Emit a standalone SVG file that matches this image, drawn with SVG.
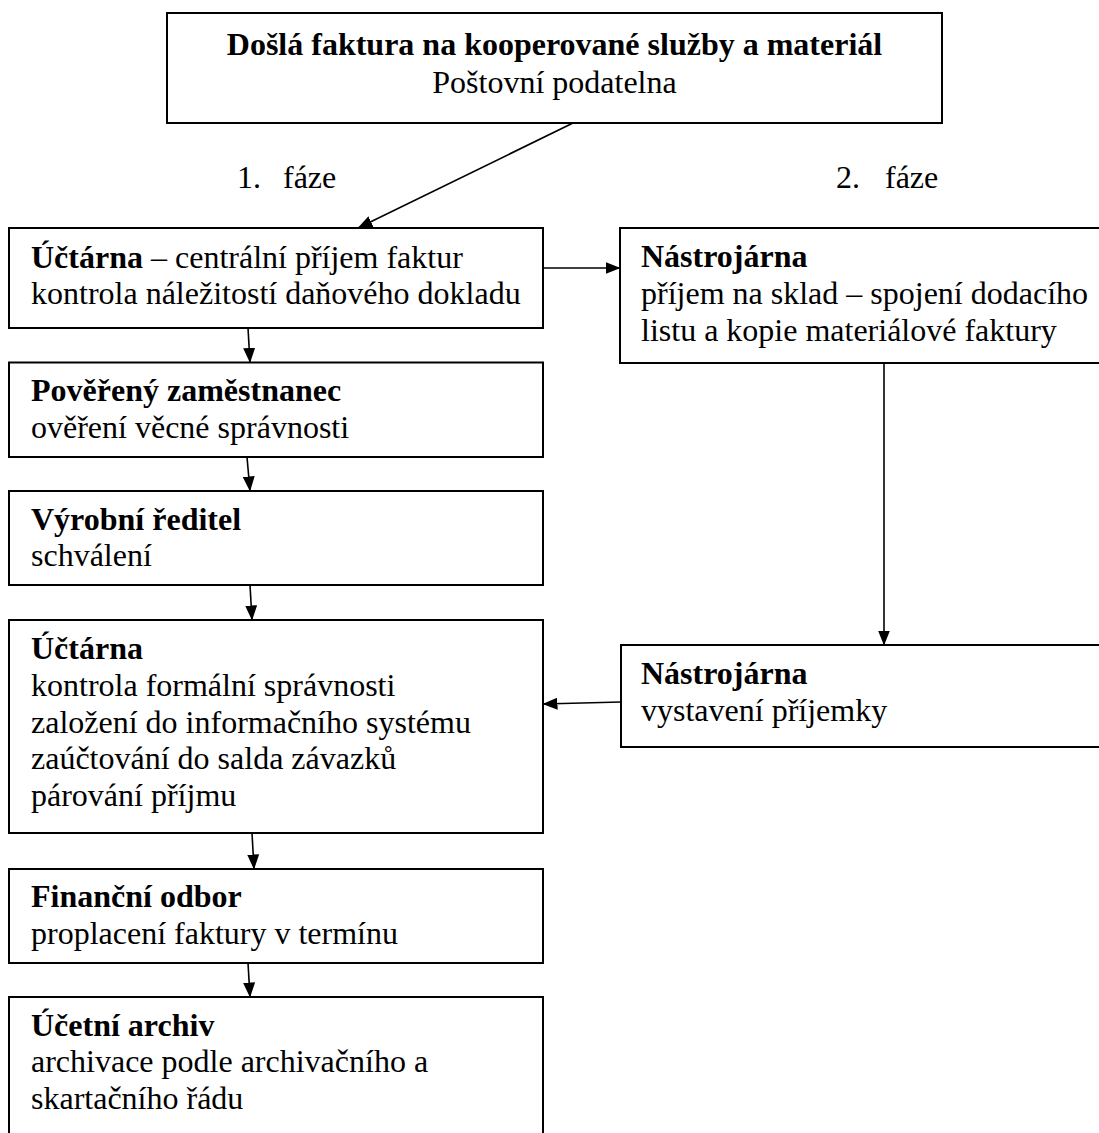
<svg xmlns="http://www.w3.org/2000/svg" width="1099" height="1133" viewBox="0 0 1099 1133">
  <style>
    text { font-family: "Liberation Serif", "Times New Roman", serif; font-size: 32px; fill: #000; }
    .b { font-weight: bold; }
    .box { fill: #fff; stroke: #000; stroke-width: 2; }
    .conn { stroke: #000; stroke-width: 1.6; fill: none; marker-end: url(#arrow); }
  </style>
  <defs>
    <marker id="arrow" markerUnits="userSpaceOnUse" markerWidth="15" markerHeight="12" refX="14.5" refY="6" orient="auto">
      <path d="M0,0 L15,6 L0,12 z" fill="#000"/>
    </marker>
  </defs>
  <rect width="1099" height="1133" fill="#fff"/>

  <!-- incoming invoice -->
  <g id="node-incoming">
    <rect class="box" x="167" y="13" width="775" height="110"/>
    <text x="554.5" y="55" text-anchor="middle" class="b">Došlá faktura na kooperované služby a materiál</text>
    <text x="554.5" y="92.5" text-anchor="middle">Poštovní podatelna</text>
  </g>

  <!-- phase labels -->
  <g id="phase-labels">
    <text x="237" y="188">1.</text>
    <text x="283" y="188">fáze</text>
    <text x="836" y="188">2.</text>
    <text x="885" y="188">fáze</text>
  </g>

  <!-- left column: phase 1 -->
  <g id="node-uctarna-1">
    <rect class="box" x="9" y="228" width="534" height="100"/>
    <text x="31" y="267.5"><tspan class="b">Účtárna</tspan> – centrální příjem faktur</text>
    <text x="31" y="304.3">kontrola náležitostí daňového dokladu</text>
  </g>

  <g id="node-povereny">
    <rect class="box" x="9" y="362.5" width="534" height="94.5"/>
    <text x="31" y="401" class="b">Pověřený zaměstnanec</text>
    <text x="31" y="437.8">ověření věcné správnosti</text>
  </g>

  <g id="node-reditel">
    <rect class="box" x="9" y="491" width="534" height="94"/>
    <text x="31" y="529.5" class="b">Výrobní ředitel</text>
    <text x="31" y="566.3">schválení</text>
  </g>

  <g id="node-uctarna-2">
    <rect class="box" x="9" y="620" width="534" height="213"/>
    <text x="31" y="659" class="b">Účtárna</text>
    <text x="31" y="695.8">kontrola formální správnosti</text>
    <text x="31" y="732.6">založení do informačního systému</text>
    <text x="31" y="769.4">zaúčtování do salda závazků</text>
    <text x="31" y="806.2">párování příjmu</text>
  </g>

  <g id="node-financni">
    <rect class="box" x="9" y="869" width="534" height="94"/>
    <text x="31" y="907" class="b">Finanční odbor</text>
    <text x="31" y="943.8">proplacení faktury v termínu</text>
  </g>

  <g id="node-archiv">
    <rect class="box" x="9" y="997" width="534" height="150"/>
    <text x="31" y="1035.5" class="b">Účetní archiv</text>
    <text x="31" y="1072.3">archivace podle archivačního a</text>
    <text x="31" y="1109.1">skartačního řádu</text>
  </g>

  <!-- right column: phase 2 -->
  <g id="node-nastrojarna-1">
    <rect class="box" x="620" y="228" width="495" height="135"/>
    <text x="641" y="267" class="b">Nástrojárna</text>
    <text x="641" y="303.8">příjem na sklad – spojení dodacího</text>
    <text x="641" y="340.6">listu a kopie materiálové faktury</text>
  </g>

  <g id="node-nastrojarna-2">
    <rect class="box" x="621" y="645" width="495" height="102"/>
    <text x="641" y="684" class="b">Nástrojárna</text>
    <text x="641" y="720.8">vystavení příjemky</text>
  </g>

  <!-- connectors -->
  <g id="connectors">
    <line class="conn" x1="573" y1="123" x2="358" y2="228"/>
    <line class="conn" x1="543" y1="268" x2="620" y2="268"/>
    <line class="conn" x1="248" y1="328" x2="250" y2="362.5"/>
    <line class="conn" x1="247" y1="457" x2="250" y2="491"/>
    <line class="conn" x1="250" y1="585" x2="252" y2="620"/>
    <line class="conn" x1="252" y1="833" x2="254" y2="869"/>
    <line class="conn" x1="248" y1="963" x2="250" y2="997"/>
    <line class="conn" x1="884" y1="363" x2="884" y2="645"/>
    <line class="conn" x1="621" y1="702" x2="543" y2="704"/>
  </g>
</svg>
